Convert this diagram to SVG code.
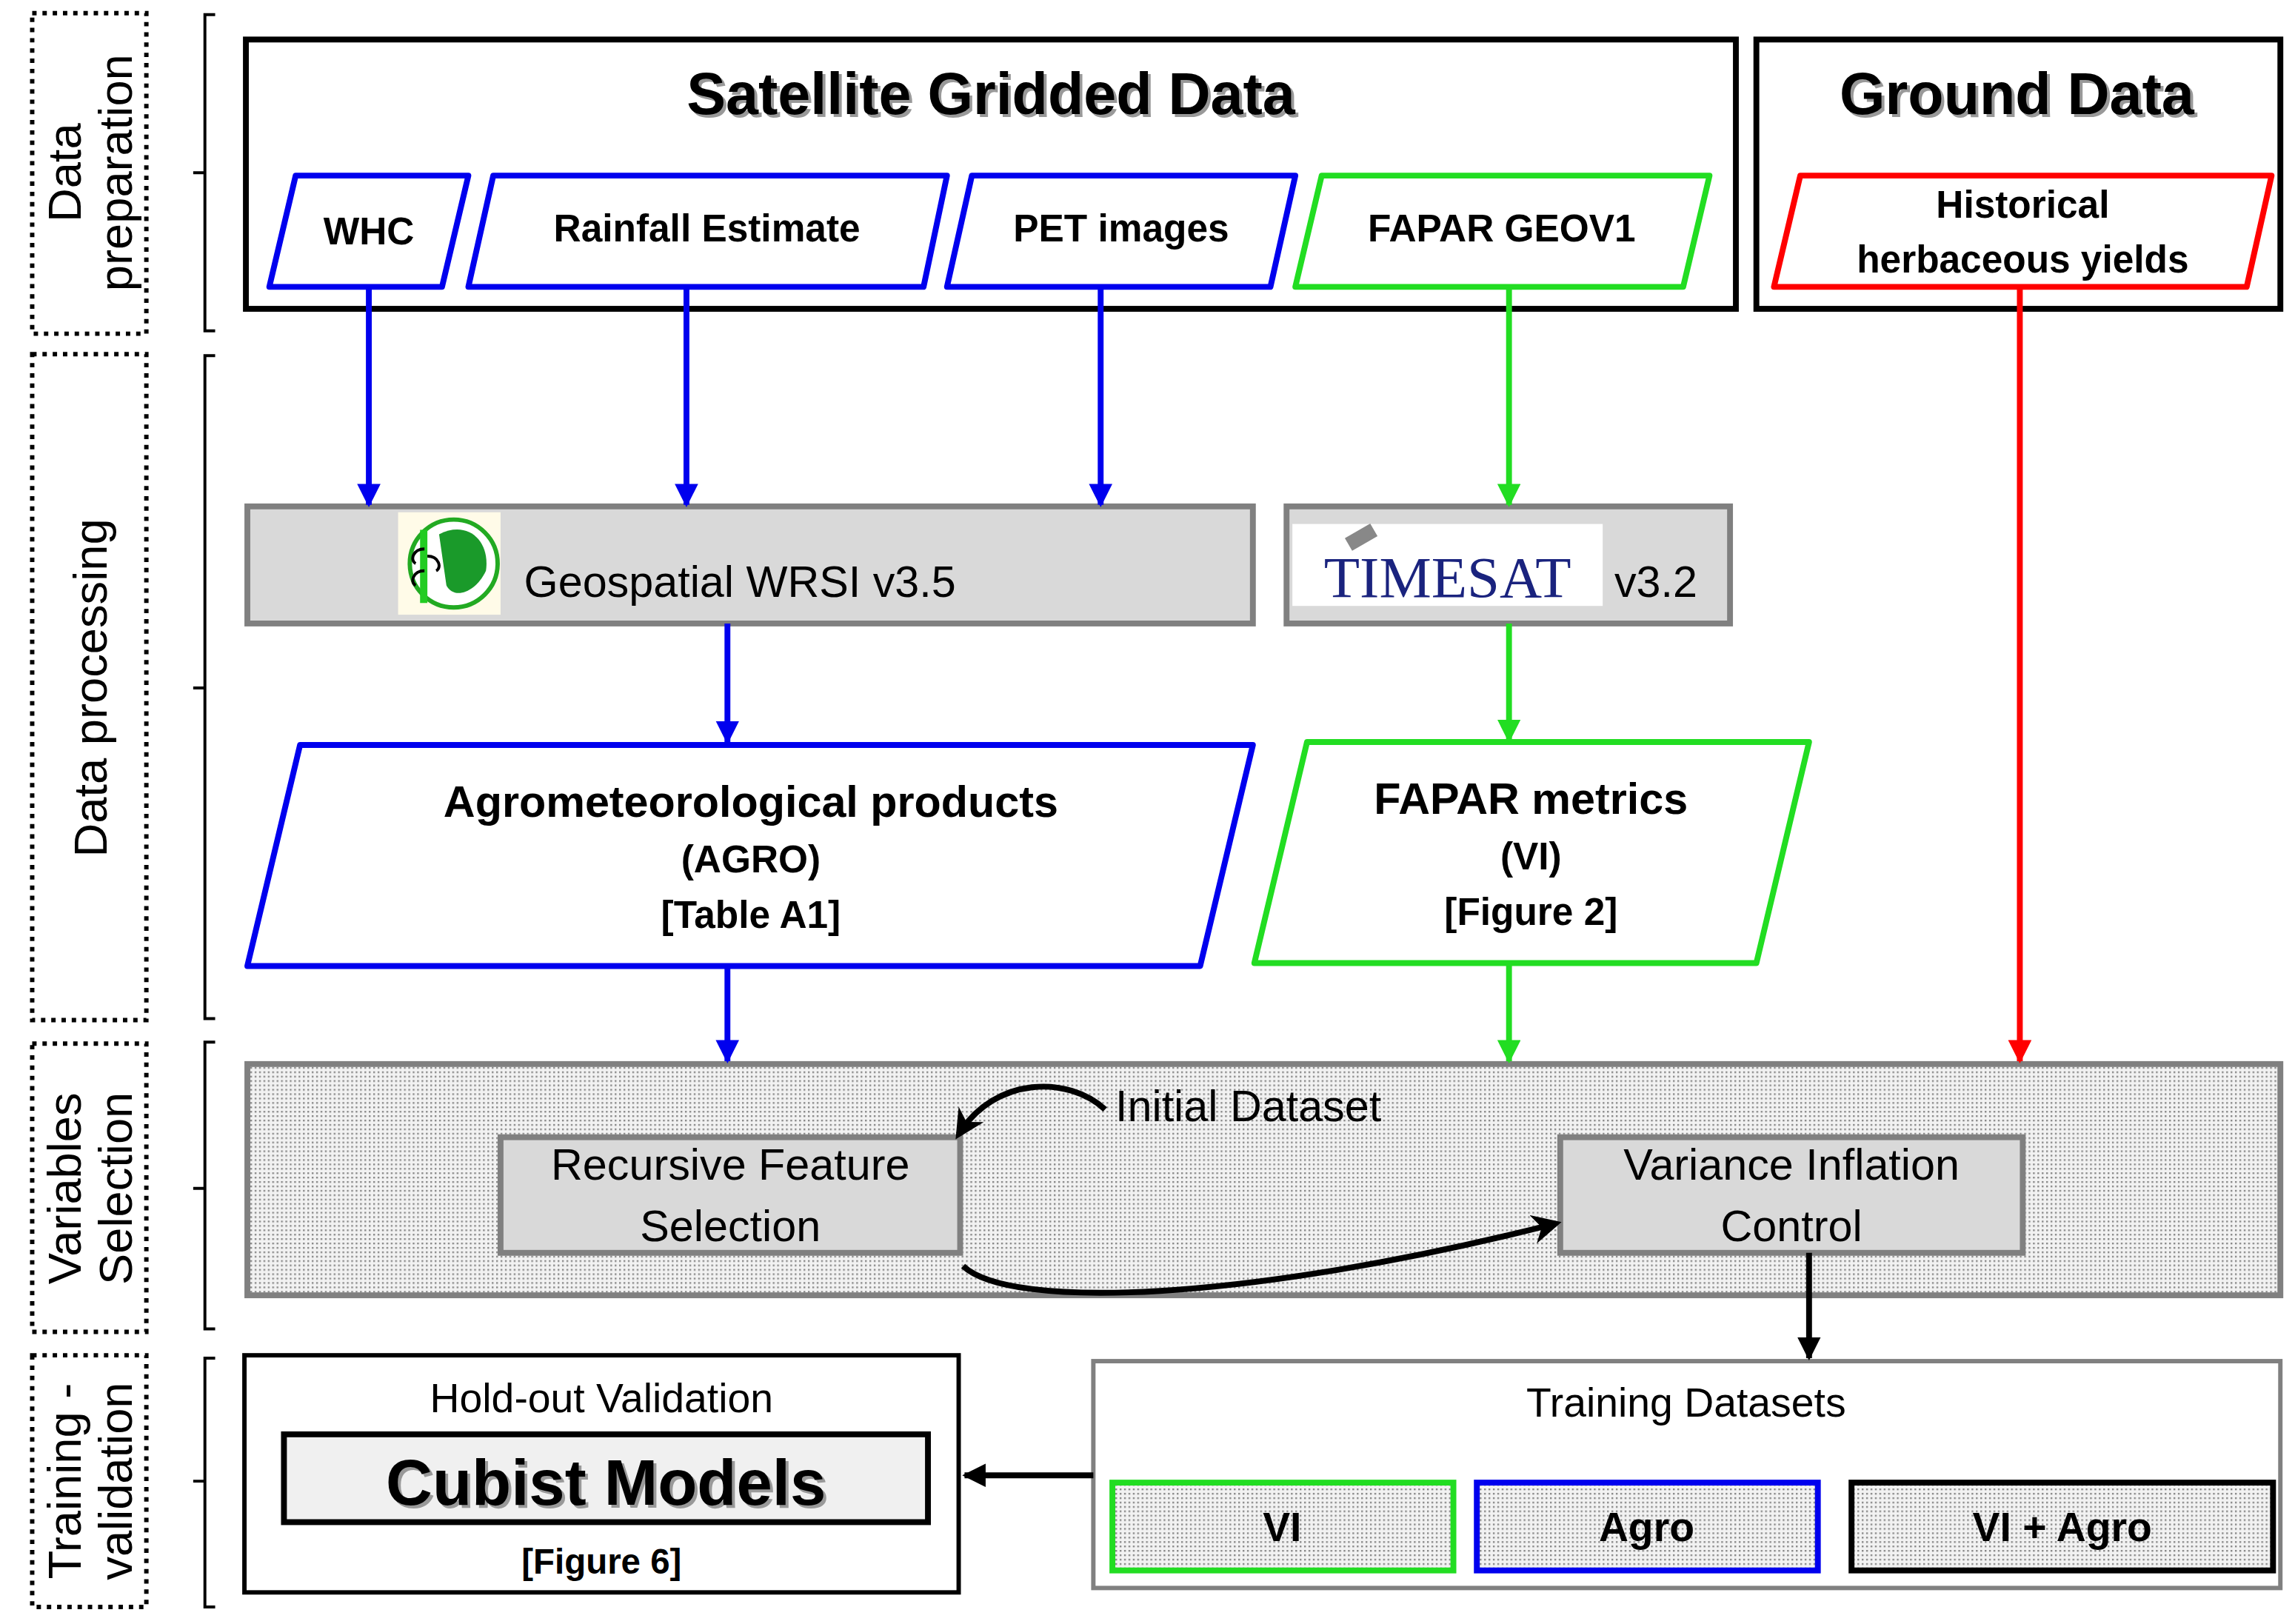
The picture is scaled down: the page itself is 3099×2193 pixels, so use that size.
<svg xmlns="http://www.w3.org/2000/svg" width="3099" height="2193" viewBox="0 0 3099 2193">
<defs>
<pattern id="dots" width="3" height="3" patternUnits="userSpaceOnUse"><rect width="3" height="3" fill="#f2f2f2"/><rect width="1.2" height="1.2" fill="#888"/></pattern>
<marker id="ab" viewBox="0 0 10 10" refX="9" refY="5" markerWidth="4" markerHeight="4" orient="auto"><path d="M0,0L10,5L0,10z" fill="#0000ee"/></marker>
<marker id="ag" viewBox="0 0 10 10" refX="9" refY="5" markerWidth="4" markerHeight="4" orient="auto"><path d="M0,0L10,5L0,10z" fill="#22dd22"/></marker>
<marker id="ar" viewBox="0 0 10 10" refX="9" refY="5" markerWidth="4" markerHeight="4" orient="auto"><path d="M0,0L10,5L0,10z" fill="#ff0000"/></marker>
<marker id="ak" viewBox="0 0 10 10" refX="9" refY="5" markerWidth="4" markerHeight="4" orient="auto"><path d="M0,0L10,5L0,10z" fill="#000"/></marker>
<marker id="akc" viewBox="0 0 10 10" refX="8" refY="5" markerWidth="5" markerHeight="5" orient="auto"><path d="M0,0L10,5L0,10L3,5z" fill="#000"/></marker>
</defs>
<style>
text{font-family:"Liberation Sans",Arial,sans-serif;fill:#000}
.lab{font-size:32px}
.b{font-weight:bold}
.dot{fill:none;stroke:#000;stroke-width:3;stroke-dasharray:3 4}
.br{fill:none;stroke:#000;stroke-width:2}
.blk{fill:#fff;stroke:#000;stroke-width:4}
.gray{fill:#d9d9d9;stroke:#808080;stroke-width:4}
.pb{fill:#fff;stroke:#0000ee;stroke-width:4;stroke-linejoin:round}
.pg{fill:#fff;stroke:#22dd22;stroke-width:4;stroke-linejoin:round}
.pr{fill:#fff;stroke:#ff0000;stroke-width:4;stroke-linejoin:round}
.cb{stroke:#0000ee;stroke-width:4;fill:none}
.cg{stroke:#22dd22;stroke-width:4;fill:none}
.cr{stroke:#ff0000;stroke-width:4;fill:none}
.ck{stroke:#000;stroke-width:4;fill:none}
</style>
<rect width="3099" height="2193" fill="#fff"/>
<g transform="scale(1.9764)">
<g id="phases">
<rect class="dot" x="22" y="9" width="78" height="219"/>
<rect class="dot" x="22" y="242" width="78" height="455"/>
<rect class="dot" x="22" y="713" width="78" height="197"/>
<rect class="dot" x="22" y="926" width="78" height="172"/>
<text class="lab" transform="translate(55,118) rotate(-90)" text-anchor="middle">Data</text>
<text class="lab" transform="translate(90,118) rotate(-90)" text-anchor="middle">preparation</text>
<text class="lab" transform="translate(73,470) rotate(-90)" text-anchor="middle">Data processing</text>
<text class="lab" transform="translate(55,812) rotate(-90)" text-anchor="middle">Variables</text>
<text class="lab" transform="translate(90,812) rotate(-90)" text-anchor="middle">Selection</text>
<text class="lab" transform="translate(55,1012) rotate(-90)" text-anchor="middle">Training -</text>
<text class="lab" transform="translate(90,1012) rotate(-90)" text-anchor="middle">validation</text>
<path class="br" d="M147,10H140V226H147M140,118H132"/>
<path class="br" d="M147,243H140V696H147M140,470H132"/>
<path class="br" d="M147,712H140V908H147M140,812H132"/>
<path class="br" d="M147,928H140V1098H147M140,1012H132"/>
</g>
<g id="satellite">
<rect class="blk" x="168" y="27" width="1018" height="184"/>
<text x="679" y="80" font-size="40" class="b" text-anchor="middle" style="fill:#999">Satellite Gridded Data</text>
<text x="677" y="78" font-size="40" class="b" text-anchor="middle">Satellite Gridded Data</text>
</g>
<g id="ground">
<rect class="blk" x="1200" y="27" width="358" height="184"/>
<text x="1380" y="80" font-size="40" class="b" text-anchor="middle" style="fill:#999">Ground Data</text>
<text x="1378" y="78" font-size="40" class="b" text-anchor="middle">Ground Data</text>
</g>
<g id="whc"><path class="pb" d="M202,120H320L302,196H184Z"/><text x="252" y="167" font-size="26" class="b" text-anchor="middle">WHC</text></g>
<g id="rain"><path class="pb" d="M337,120H647L631,196H320Z"/><text x="483" y="165" font-size="26" class="b" text-anchor="middle">Rainfall Estimate</text></g>
<g id="pet"><path class="pb" d="M664,120H885L868,196H647Z"/><text x="766" y="165" font-size="26" class="b" text-anchor="middle">PET images</text></g>
<g id="fapar"><path class="pg" d="M903,120H1168L1150,196H885Z"/><text x="1026" y="165" font-size="26" class="b" text-anchor="middle">FAPAR GEOV1</text></g>
<g id="hist"><path class="pr" d="M1230,120H1552L1535,196H1212Z"/><text x="1382" y="149" font-size="26" class="b" text-anchor="middle">Historical</text><text x="1382" y="186" font-size="26" class="b" text-anchor="middle">herbaceous yields</text></g>
<g id="wrsi">
<rect class="gray" x="169" y="346" width="687" height="80"/>
<rect x="272" y="350" width="70" height="70" fill="#fffbe8"/>
<circle cx="310" cy="385" r="30" fill="#fff" stroke="#2a2" stroke-width="3"/>
<path d="M300,365C320,355 335,370 332,390C325,405 310,410 305,400Z" fill="#1a9a2a"/>
<rect x="287" y="362" width="5" height="50" fill="#2c2"/>
<path d="M290,375c-8,0-10,8-6,10M290,390c-8,0-10,8-6,10M292,380c8,0 10,8 6,10" stroke="#000" stroke-width="2" fill="none"/>
<text x="358" y="408" font-size="30">Geospatial WRSI v3.5</text>
</g>
<g id="timesat">
<rect class="gray" x="879" y="346" width="303" height="80"/>
<rect x="883" y="358" width="212" height="56" fill="#fff"/>
<text x="989" y="408" font-size="40" text-anchor="middle" style="font-family:'Liberation Serif',serif;fill:#1a237e">TIMESAT</text>
<rect x="920" y="362" width="20" height="10" fill="#888" transform="rotate(-30 930 367)"/>
<text x="1103" y="408" font-size="30">v3.2</text>
</g>
<g id="agro"><path class="pb" d="M205,509H856L820,660H169Z"/>
<text x="513" y="558" font-size="30" class="b" text-anchor="middle">Agrometeorological products</text>
<text x="513" y="596" font-size="26" class="b" text-anchor="middle">(AGRO)</text>
<text x="513" y="634" font-size="26" class="b" text-anchor="middle">[Table A1]</text></g>
<g id="vi"><path class="pg" d="M893,507H1236L1200,658H857Z"/>
<text x="1046" y="556" font-size="30" class="b" text-anchor="middle">FAPAR metrics</text>
<text x="1046" y="594" font-size="26" class="b" text-anchor="middle">(VI)</text>
<text x="1046" y="632" font-size="26" class="b" text-anchor="middle">[Figure 2]</text></g>
<g id="varsel">
<rect x="169" y="727" width="1389" height="158" fill="url(#dots)" stroke="#808080" stroke-width="4"/>
<text x="762" y="766" font-size="30">Initial Dataset</text>
</g>
<g id="rfs"><rect class="gray" x="342" y="777" width="314" height="79"/>
<text x="499" y="806" font-size="30" text-anchor="middle">Recursive Feature</text>
<text x="499" y="848" font-size="30" text-anchor="middle">Selection</text></g>
<g id="vic"><rect class="gray" x="1066" y="777" width="316" height="79"/>
<text x="1224" y="806" font-size="30" text-anchor="middle">Variance Inflation</text>
<text x="1224" y="848" font-size="30" text-anchor="middle">Control</text></g>
<g id="training">
<rect x="747" y="930" width="811" height="155" fill="#fff" stroke="#808080" stroke-width="3"/>
<text x="1152" y="968" font-size="28" text-anchor="middle">Training Datasets</text>
<rect x="760" y="1013" width="233" height="60" fill="url(#dots)" stroke="#22dd22" stroke-width="4"/>
<text x="876" y="1053" font-size="28" class="b" text-anchor="middle">VI</text>
<rect x="1009" y="1013" width="233" height="60" fill="url(#dots)" stroke="#0000ee" stroke-width="4"/>
<text x="1125" y="1053" font-size="28" class="b" text-anchor="middle">Agro</text>
<rect x="1265" y="1013" width="288" height="60" fill="url(#dots)" stroke="#000" stroke-width="4"/>
<text x="1409" y="1053" font-size="28" class="b" text-anchor="middle">VI + Agro</text>
</g>
<g id="holdout">
<rect x="167" y="926" width="488" height="162" fill="#fff" stroke="#000" stroke-width="3"/>
<text x="411" y="965" font-size="28" text-anchor="middle">Hold-out Validation</text>
<rect x="194" y="980" width="440" height="60" fill="#f0f0f0" stroke="#000" stroke-width="4"/>
<text x="416" y="1030" font-size="44" class="b" text-anchor="middle" style="fill:#999">Cubist Models</text>
<text x="414" y="1028" font-size="44" class="b" text-anchor="middle">Cubist Models</text>
<text x="411" y="1075" font-size="24" class="b" text-anchor="middle">[Figure 6]</text>
</g>
<g id="connectors">
<path class="cb" marker-end="url(#ab)" d="M252,196V345"/>
<path class="cb" marker-end="url(#ab)" d="M469,196V345"/>
<path class="cb" marker-end="url(#ab)" d="M752,196V345"/>
<path class="cg" marker-end="url(#ag)" d="M1031,196V345"/>
<path class="cr" marker-end="url(#ar)" d="M1380,196V725"/>
<path class="cb" marker-end="url(#ab)" d="M497,426V507"/>
<path class="cg" marker-end="url(#ag)" d="M1031,426V506"/>
<path class="cb" marker-end="url(#ab)" d="M497,660V725"/>
<path class="cg" marker-end="url(#ag)" d="M1031,658V725"/>
<path class="ck" marker-end="url(#akc)" d="M755,758C730,735 680,735 655,775"/>
<path class="ck" marker-end="url(#akc)" d="M658,865C690,895 850,890 1063,836"/>
<path class="ck" marker-end="url(#ak)" d="M1236,856V928"/>
<path class="ck" marker-end="url(#ak)" d="M747,1008H659"/>
</g>
</g>
</svg>
